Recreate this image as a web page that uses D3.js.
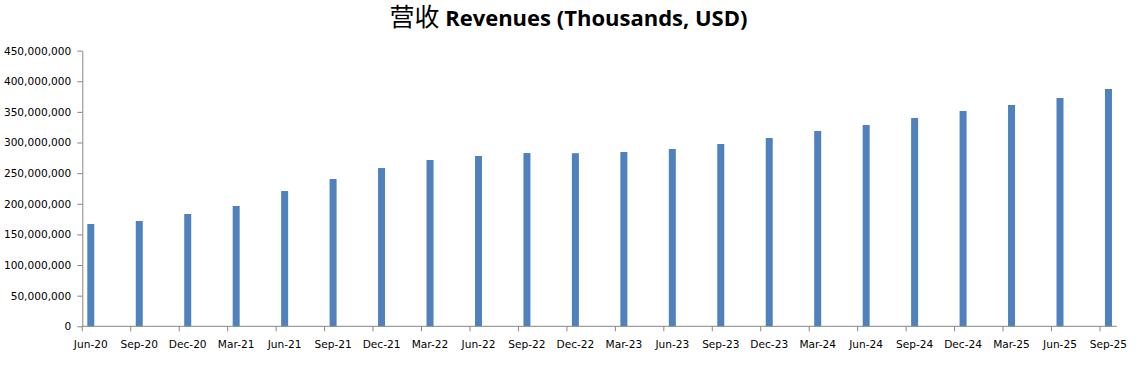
<!DOCTYPE html>
<html><head><meta charset="utf-8">
<script src="https://cdn.jsdelivr.net/npm/d3@7"></script>
<style>body{margin:0;background:#fff}svg{display:block}</style>
</head><body>
<svg id="c" width="1139" height="365"></svg>
<script>
const categories = ["Jun-20","Sep-20","Dec-20","Mar-21","Jun-21","Sep-21","Dec-21","Mar-22","Jun-22","Sep-22","Dec-22","Mar-23","Jun-23","Sep-23","Dec-23","Mar-24","Jun-24","Sep-24","Dec-24","Mar-25","Jun-25","Sep-25"];
const revenues = [167000000,171900000,183300000,196300000,220800000,240400000,258300000,271400000,277900000,282800000,282500000,284500000,289400000,297500000,307300000,318700000,328500000,340000000,351400000,361200000,372600000,387300000];
const yTicks = [0,50000000,100000000,150000000,200000000,250000000,300000000,350000000,400000000,450000000];
const titleZh = "营收";
const titleEn = "Revenues (Thousands, USD)";

const svg = d3.select("#c");
const axisColor = "#868686";
const left = 82.3, step = 48.46;
const x = d3.scaleBand().domain(categories).range([left, left + step*categories.length]).paddingInner(0).paddingOuter(0);
const y = d3.scaleLinear().domain([0, 450000000]).range([326.3, 50.6]);
const barOff = 5, barW = 7;

// bars
svg.append("g").selectAll("rect").data(revenues).join("rect")
  .attr("x", (d,i) => x(categories[i]) + barOff)
  .attr("width", barW)
  .attr("y", d => y(d))
  .attr("height", d => y(0) - y(d))
  .attr("fill", "#4F81BD");

// y axis
const fmt = d3.format(",");
const yAxis = d3.axisLeft(y).tickValues(yTicks).tickFormat(fmt).tickSize(5).tickSizeOuter(0).tickPadding(6);
const gy = svg.append("g").attr("transform", `translate(${left},0)`).call(yAxis);
gy.select(".domain").attr("stroke", axisColor);
gy.selectAll(".tick line").attr("stroke", axisColor);
gy.selectAll("text").attr("font-family","DejaVu Sans, Verdana, sans-serif").attr("font-size","10.6px").attr("fill","#000");

// x axis line
svg.append("line").attr("x1", left).attr("x2", 1116.7).attr("y1", y(0)).attr("y2", y(0)).attr("stroke", axisColor);
// x ticks
svg.append("g").selectAll("line").data(categories).join("line")
  .attr("x1", d => x(d)).attr("x2", d => x(d))
  .attr("y1", y(0)).attr("y2", y(0) + 5).attr("stroke", axisColor);
// x labels
svg.append("g").selectAll("text").data(categories).join("text")
  .attr("x", d => x(d) + barOff + barW/2)
  .attr("y", 348)
  .attr("text-anchor", "middle")
  .attr("font-family","DejaVu Sans, Verdana, sans-serif").attr("font-size","10.6px").attr("fill","#000")
  .text(d => d);

// title
const t = svg.append("text").attr("x", 568.5).attr("y", 25.5).attr("text-anchor","middle").attr("fill","#000");
t.append("tspan").attr("font-family","Noto Sans CJK SC").attr("font-size","25px").attr("font-weight","normal").text(titleZh + " ");
t.append("tspan").attr("font-family","Open Sans, sans-serif").attr("font-size","22px").attr("font-weight","bold").text(titleEn);
</script>
</body></html>
